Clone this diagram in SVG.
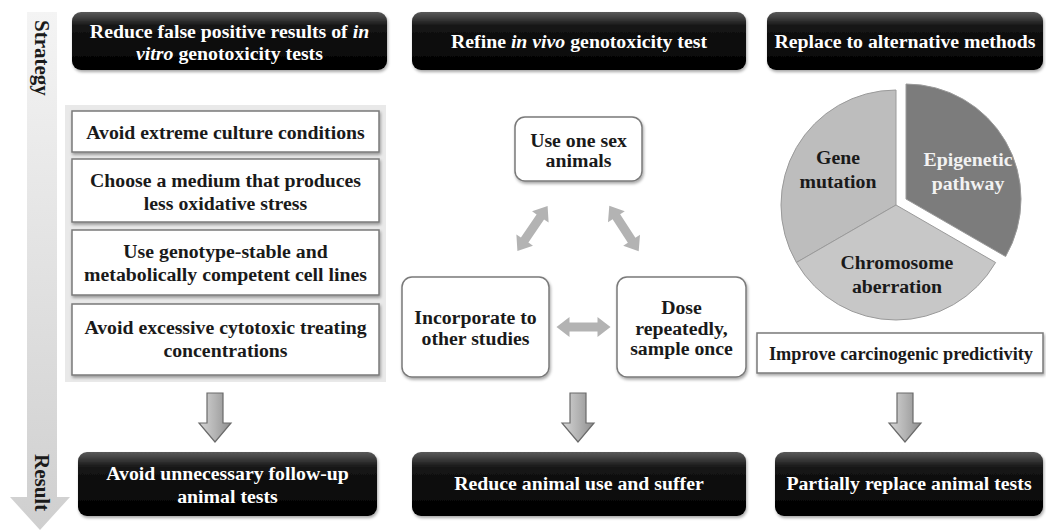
<svg xmlns="http://www.w3.org/2000/svg" width="1046" height="530" viewBox="0 0 1046 530" font-family="'Liberation Serif', 'DejaVu Serif', serif">
<defs>
<linearGradient id="gBlack" x1="0" y1="0" x2="0" y2="1">
<stop offset="0" stop-color="#5a5a5a"/>
<stop offset="0.25" stop-color="#141414"/>
<stop offset="1" stop-color="#000"/>
</linearGradient>
<linearGradient id="gBand" x1="0" y1="0" x2="0" y2="1">
<stop offset="0" stop-color="#f4f4f4"/>
<stop offset="1" stop-color="#cfcfcf"/>
</linearGradient>
<linearGradient id="gDown" x1="0" y1="0" x2="1" y2="0">
<stop offset="0" stop-color="#d6d6d6"/>
<stop offset="0.5" stop-color="#b4b4b4"/>
<stop offset="1" stop-color="#8e8e8e"/>
</linearGradient>
<filter id="sh" x="-10%" y="-10%" width="120%" height="130%">
<feDropShadow dx="1" dy="2" stdDeviation="1.5" flood-color="#000" flood-opacity="0.35"/>
</filter>
<path id="downArrow" d="M-8,0 H8 V30 H16 L0,49 L-16,30 H-8 Z"/>
<path id="dbl" d="M-27,0 L-14,-10 L-14,-4.5 L14,-4.5 L14,-10 L27,0 L14,10 L14,4.5 L-14,4.5 L-14,10 Z"/>
</defs>
<style>
.t{font-family:'Liberation Serif','DejaVu Serif',serif;font-weight:bold;font-size:19.8px;text-anchor:middle;fill:#1a1a1a}
.ax{font-size:21px;text-anchor:start}
.w{fill:#ffffff}
.blk{fill:url(#gBlack);filter:url(#sh)}
.box{fill:#fff;stroke:#7a7a7a;stroke-width:1.5;filter:url(#sh)}
.down{fill:url(#gDown);stroke:#6a6a6a;stroke-width:1.2}
.dbl{fill:#b3b3b3}
.slice{stroke:#9a9a9a;stroke-width:1}
</style>

<g id="axis">
<path d="M27,12 H57 V497 H70 L40,530 L10,497 H27 Z" fill="url(#gBand)"/>
<text class="t ax" transform="translate(35,20) rotate(90)">Strategy</text>
<text class="t ax" transform="translate(35,454) rotate(90)">Result</text>
</g>

<g id="strategy1">
<rect class="blk" x="72" y="12" width="315" height="58" rx="9"/>
<text class="t w" x="229.5" y="38">Reduce false positive results of <tspan font-style="italic">in</tspan></text>
<text class="t w" x="229.5" y="60"><tspan font-style="italic">vitro</tspan> genotoxicity tests</text>
</g>
<g id="strategy2">
<rect class="blk" x="412" y="12" width="334" height="58" rx="9"/>
<text class="t w" x="579" y="48">Refine <tspan font-style="italic">in vivo</tspan> genotoxicity test</text>
</g>
<g id="strategy3">
<rect class="blk" x="767" y="12" width="276" height="58" rx="9"/>
<text class="t w" x="905" y="48">Replace to alternative methods</text>
</g>

<g id="panel">
<rect x="65" y="105" width="321" height="277" fill="#e9e9e9"/>
</g>
<g id="item1">
<rect class="box" x="72" y="111" width="307" height="41"/>
<text class="t" x="225.5" y="138.5">Avoid extreme culture conditions</text>
</g>
<g id="item2">
<rect class="box" x="72" y="159" width="307" height="63"/>
<text class="t" x="225.5" y="187">Choose a medium that produces</text>
<text class="t" x="225.5" y="210">less oxidative stress</text>
</g>
<g id="item3">
<rect class="box" x="72" y="230" width="307" height="65"/>
<text class="t" x="225.5" y="258">Use genotype-stable and</text>
<text class="t" x="225.5" y="281">metabolically competent cell lines</text>
</g>
<g id="item4">
<rect class="box" x="72" y="304" width="307" height="71"/>
<text class="t" x="225.5" y="334">Avoid excessive cytotoxic treating</text>
<text class="t" x="225.5" y="357">concentrations</text>
</g>

<g id="node-onesex">
<rect class="box" x="515" y="117" width="127" height="64" rx="10"/>
<text class="t" x="578.5" y="146.5">Use one sex</text>
<text class="t" x="578.5" y="167">animals</text>
</g>
<g id="node-incorporate">
<rect class="box" x="402" y="277" width="147" height="100" rx="10"/>
<text class="t" x="475.5" y="324">Incorporate to</text>
<text class="t" x="475.5" y="345">other studies</text>
</g>
<g id="node-dose">
<rect class="box" x="617" y="277" width="129" height="100" rx="10"/>
<text class="t" x="681.5" y="314">Dose</text>
<text class="t" x="681.5" y="335">repeatedly,</text>
<text class="t" x="681.5" y="355">sample once</text>
</g>

<g id="pie">
<path class="slice" d="M896,205 L796.4,262.5 A115,115 0 0 1 896,90 Z" fill="#bdbdbd"/>
<path class="slice" d="M896,205 L995.6,262.5 A115,115 0 0 1 796.4,262.5 Z" fill="#c7c7c7"/>
<path class="slice" d="M906,199 L906,84 A115,115 0 0 1 1005.6,256.5 Z" fill="#7c7c7c"/>
<text class="t" x="838" y="164">Gene</text>
<text class="t" x="838" y="188">mutation</text>
<text class="t w" x="968" y="166" style="fill:#f2f2f2">Epigenetic</text>
<text class="t w" x="968" y="190" style="fill:#f2f2f2">pathway</text>
<text class="t" x="897" y="269">Chromosome</text>
<text class="t" x="897" y="293">aberration</text>
</g>
<g id="improve">
<rect class="box" x="757" y="333" width="286" height="40"/>
<text class="t" x="901" y="360" style="font-size:18.3px">Improve carcinogenic predictivity</text>
</g>

<g id="result1">
<rect class="blk" x="78" y="452" width="299" height="64" rx="9"/>
<text class="t w" x="227.5" y="480">Avoid unnecessary follow-up</text>
<text class="t w" x="227.5" y="503">animal tests</text>
</g>
<g id="result2">
<rect class="blk" x="412" y="452" width="334" height="64" rx="9"/>
<text class="t w" x="579" y="490">Reduce animal use and suffer</text>
</g>
<g id="result3">
<rect class="blk" x="775" y="452" width="268" height="64" rx="9"/>
<text class="t w" x="909" y="490">Partially replace animal tests</text>
</g>

<g id="connectors">
<use href="#downArrow" class="down" transform="translate(215,393)"/>
<use href="#downArrow" class="down" transform="translate(578,393)"/>
<use href="#downArrow" class="down" transform="translate(905,393)"/>
<use href="#dbl" class="dbl" transform="translate(532.5,228.5) rotate(-56)"/>
<use href="#dbl" class="dbl" transform="translate(624,228.5) rotate(57)"/>
<use href="#dbl" class="dbl" transform="translate(583.5,327)"/>
</g>
</svg>
